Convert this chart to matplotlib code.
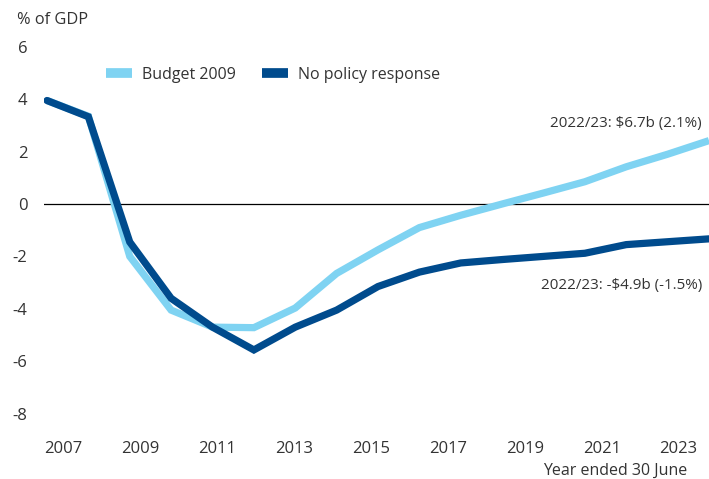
import matplotlib
matplotlib.use("Agg")
import matplotlib.pyplot as plt
from matplotlib.lines import Line2D

# Data (fiscal years ended 30 June, 2006/07 ... 2022/23), % of GDP
periods = list(range(17))
budget_2009 = [3.95, 3.35, -2.0, -4.05, -4.7, -4.72, -3.97, -2.65, -1.75, -0.9,
               -0.43, 0.0, 0.42, 0.85, 1.42, 1.9, 2.42]
no_policy = [3.95, 3.33, -1.45, -3.6, -4.7, -5.57, -4.7, -4.05, -3.15, -2.6,
             -2.25, -2.12, -2.0, -1.88, -1.55, -1.44, -1.33]
tick_labels = ["2007", "2009", "2011", "2013", "2015", "2017", "2019", "2021", "2023"]
y_ticks = [6, 4, 2, 0, -2, -4, -6, -8]

LIGHT = "#7fd3f2"
DARK = "#004b8d"
TXT = "#333333"

plt.rcParams['font.family'] = ['Open Sans', 'DejaVu Sans']

W, H = 709, 479
fig = plt.figure(figsize=(W / 100, H / 100), dpi=100)
left_px, right_px = 44, 709
top_px, bot_px = 30, 430
ax = fig.add_axes([left_px / W, 1 - bot_px / H, (right_px - left_px) / W, (bot_px - top_px) / H])

x0 = -3 / 41.4
ax.set_xlim(x0, 16)
def px_to_val(py):
    return (204 - py) / 26.2
ax.set_ylim(px_to_val(bot_px), px_to_val(top_px))

ax.axhline(0, color="black", lw=0.9, zorder=1)
ax.plot(periods, budget_2009, color=LIGHT, lw=5.2, solid_joinstyle="miter", solid_capstyle="butt", zorder=2)
ax.plot(periods, no_policy, color=DARK, lw=5.2, solid_joinstyle="miter", solid_capstyle="round", zorder=3)

for s in ax.spines.values():
    s.set_visible(False)

step = 77 / 41.4
first = (63 - 47) / 41.4
ax.set_xticks([first + i * step for i in range(len(tick_labels))])
ax.set_xticklabels(tick_labels)
ax.set_yticks(y_ticks)
ax.set_yticklabels([str(v) for v in y_ticks])
ax.tick_params(axis="both", length=0, labelsize=12, colors=TXT)
ax.tick_params(axis="y", pad=12)
ax.tick_params(axis="x", pad=8)
for lbl in ax.get_yticklabels():
    lbl.set_horizontalalignment("right")

fig.text(17 / W, 1 - 20 / H, "% of GDP", fontsize=11.8, color=TXT, va="center", ha="left")
fig.text(687 / W, 1 - 471 / H, "Year ended 30 June", fontsize=11.5, color=TXT, va="center", ha="right")

fig.text(702 / W, 1 - 123 / H, "2022/23: \\$6.7b (2.1%)", fontsize=10.9, color=TXT, va="center", ha="right")
fig.text(702 / W, 1 - 285 / H, "2022/23: -\\$4.9b (-1.5%)", fontsize=10.9, color=TXT, va="center", ha="right")

handles = [Line2D([], [], color=LIGHT, lw=7, solid_capstyle="butt"),
           Line2D([], [], color=DARK, lw=7, solid_capstyle="butt")]
leg = fig.legend(handles, ["Budget 2009", "No policy response"], loc="center left",
                 bbox_to_anchor=(106 / W, 1 - 75 / H), ncol=2, frameon=False,
                 borderpad=0, borderaxespad=0,
                 fontsize=11.5, handlelength=1.63, handletextpad=0.63, columnspacing=1.6)
for t in leg.get_texts():
    t.set_color(TXT)

fig.savefig("out.png", dpi=100)
